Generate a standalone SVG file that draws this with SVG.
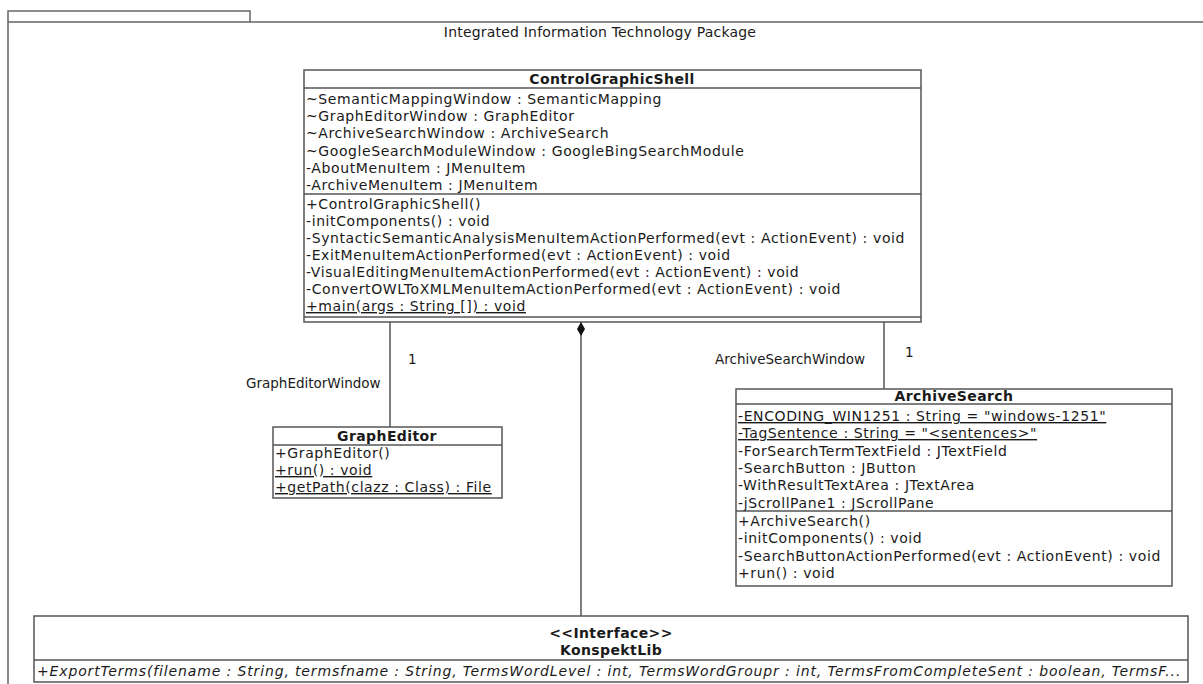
<svg xmlns="http://www.w3.org/2000/svg" width="1203" height="684" viewBox="0 0 1203 684">
<style>
text{font-family:"DejaVu Sans","Liberation Sans",sans-serif;font-size:14px;fill:#1a1a1a;letter-spacing:0.6px}
.b{font-weight:bold;letter-spacing:0.4px}
.c{text-anchor:middle}
.i{font-style:italic}
.u{text-decoration:underline}
.lb{font-size:13.5px;letter-spacing:0}
.t{letter-spacing:0.2px}
.box{fill:#fff;stroke:#555;stroke-width:1.5}
.sep{stroke:#555;stroke-width:1.5}
.ln{stroke:#555;stroke-width:1.5;fill:none}
.frame{stroke:#666;stroke-width:1.5;fill:none}
</style>
<defs>
<marker id="diamond" markerWidth="10" markerHeight="18" refX="5" refY="1" orient="0" markerUnits="userSpaceOnUse">
<path d="M5,1 L9,8 L5,15 L1,8 Z" fill="#111"/>
</marker>
</defs>
<rect width="1203" height="684" fill="#fff"/>
<g id="package">
<path class="frame" d="M8,22 V11 H250 V22"/>
<path class="frame" d="M8,684 V22 H1203"/>
<text class="c t" x="600" y="37">Integrated Information Technology Package</text>
</g>
<g id="connectors">
<line class="ln" x1="390" y1="322" x2="390" y2="427"/>
<line class="ln" x1="884" y1="322" x2="884" y2="389"/>
<line class="ln" x1="581" y1="322" x2="581" y2="616" marker-start="url(#diamond)"/>
<text class="lb" x="408" y="364">1</text>
<text class="lb" x="246" y="388">GraphEditorWindow</text>
<text class="lb" x="905" y="357">1</text>
<text class="lb" x="715" y="364">ArchiveSearchWindow</text>
</g>
<g id="ControlGraphicShell">
<rect class="box" x="304" y="70" width="617" height="252"/>
<line class="sep" x1="304" y1="88" x2="921" y2="88"/>
<line class="sep" x1="304" y1="194" x2="921" y2="194"/>
<line class="sep" x1="304" y1="317" x2="921" y2="317"/>
<text class="b c" x="612" y="84">ControlGraphicShell</text>
<text x="306" y="104">~SemanticMappingWindow : SemanticMapping</text>
<text x="306" y="121">~GraphEditorWindow : GraphEditor</text>
<text x="306" y="138">~ArchiveSearchWindow : ArchiveSearch</text>
<text x="306" y="156">~GoogleSearchModuleWindow : GoogleBingSearchModule</text>
<text x="306" y="173">-AboutMenuItem : JMenuItem</text>
<text x="306" y="190">-ArchiveMenuItem : JMenuItem</text>
<text x="306" y="209">+ControlGraphicShell()</text>
<text x="306" y="226">-initComponents() : void</text>
<text x="306" y="243">-SyntacticSemanticAnalysisMenuItemActionPerformed(evt : ActionEvent) : void</text>
<text x="306" y="260">-ExitMenuItemActionPerformed(evt : ActionEvent) : void</text>
<text x="306" y="277">-VisualEditingMenuItemActionPerformed(evt : ActionEvent) : void</text>
<text x="306" y="294">-ConvertOWLToXMLMenuItemActionPerformed(evt : ActionEvent) : void</text>
<text class="u" x="306" y="311">+main(args : String []) : void</text>
</g>
<g id="GraphEditor">
<rect class="box" x="273" y="427" width="229" height="71"/>
<line class="sep" x1="273" y1="445" x2="502" y2="445"/>
<text class="b c" x="387" y="441">GraphEditor</text>
<text x="275" y="458">+GraphEditor()</text>
<text class="u" x="275" y="475">+run() : void</text>
<text class="u" x="275" y="492">+getPath(clazz : Class) : File</text>
</g>
<g id="ArchiveSearch">
<rect class="box" x="736" y="389" width="436" height="197"/>
<line class="sep" x1="736" y1="404" x2="1172" y2="404"/>
<line class="sep" x1="736" y1="511" x2="1172" y2="511"/>
<text class="b c" x="954" y="401">ArchiveSearch</text>
<text class="u" x="738" y="421">-ENCODING_WIN1251 : String = "windows-1251"</text>
<text class="u" x="738" y="438">-TagSentence : String = "&lt;sentences&gt;"</text>
<text x="738" y="456">-ForSearchTermTextField : JTextField</text>
<text x="738" y="473">-SearchButton : JButton</text>
<text x="738" y="490">-WithResultTextArea : JTextArea</text>
<text x="738" y="508">-jScrollPane1 : JScrollPane</text>
<text x="738" y="526">+ArchiveSearch()</text>
<text x="738" y="543">-initComponents() : void</text>
<text x="738" y="561">-SearchButtonActionPerformed(evt : ActionEvent) : void</text>
<text x="738" y="578">+run() : void</text>
</g>
<g id="KonspektLib">
<rect class="box" x="34" y="616" width="1154" height="66"/>
<line class="sep" x1="34" y1="660" x2="1188" y2="660"/>
<text class="b c" x="611" y="638">&lt;&lt;Interface&gt;&gt;</text>
<text class="b c" x="611" y="655">KonspektLib</text>
<text class="i" x="37" y="676" textLength="1144" lengthAdjust="spacing">+ExportTerms(filename : String, termsfname : String, TermsWordLevel : int, TermsWordGroupr : int, TermsFromCompleteSent : boolean, TermsF...</text>
</g>
</svg>
